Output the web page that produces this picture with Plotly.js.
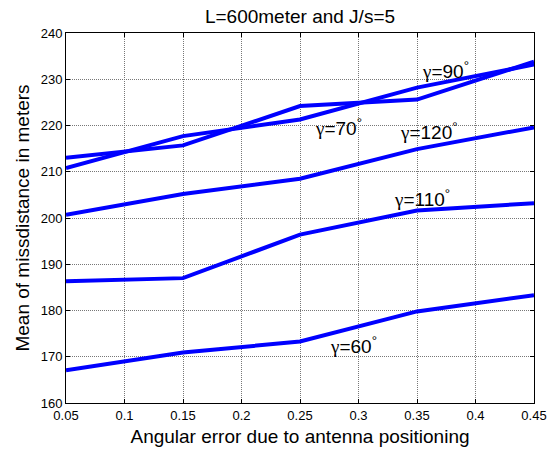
<!DOCTYPE html>
<html>
<head>
<meta charset="utf-8">
<script src="https://cdn.plot.ly/plotly-3.0.1.min.js"></script>
<style>html,body{margin:0;padding:0;background:#fff;}#chart{width:551px;height:452px;}</style>
</head>
<body>
<div id="chart"></div>
<script>
// Data
var angularError = [0.05, 0.15, 0.25, 0.35, 0.45];
var gamma60  = [167.1, 170.9, 173.3, 179.8, 183.3];
var gamma110 = [186.3, 187.0, 196.4, 201.6, 203.2];
var gamma120 = [200.7, 205.2, 208.5, 214.9, 219.6];
var gamma90  = [213.0, 215.7, 224.2, 225.6, 233.8];
var gamma70  = [210.8, 217.7, 221.3, 228.2, 233.2];
var xTicks = [0.05, 0.1, 0.15, 0.2, 0.25, 0.3, 0.35, 0.4, 0.45];
var xTickText = ['0.05', '0.1', '0.15', '0.2', '0.25', '0.3', '0.35', '0.4', '0.45'];
var yTicks = [160, 170, 180, 190, 200, 210, 220, 230, 240];
var seriesNames = ['γ=60°', 'γ=110°', 'γ=120°', 'γ=90°', 'γ=70°'];
var seriesValues = [gamma60, gamma110, gamma120, gamma90, gamma70];

var traces = seriesValues.map(function (vals, i) {
  return {
    x: angularError, y: vals, type: 'scatter', mode: 'lines', name: seriesNames[i],
    line: {color: '#0000ff', width: 4}, hoverinfo: 'skip'
  };
});

function glabel(num) {
  return '<span style="font-family:Liberation Serif">γ</span>=' + num + '<sup>°</sup>';
}
var annFont = {family: 'Liberation Sans, Arial, sans-serif', size: 19, color: '#000'};
var annotations = [
  {x: 0.3526, y: 232.0, text: glabel('90')},
  {x: 0.2611, y: 219.6, text: glabel('70')},
  {x: 0.3338, y: 218.8, text: glabel('120')},
  {x: 0.3286, y: 204.3, text: glabel('110')},
  {x: 0.2739, y: 172.6, text: glabel('60')}
].map(function (a) {
  return {x: a.x, y: a.y, xref: 'x', yref: 'y', text: a.text, showarrow: false,
          xanchor: 'left', yanchor: 'middle', font: annFont};
});

var axisCommon = {
  showline: true, linecolor: '#000', linewidth: 1, mirror: 'ticks',
  ticks: 'inside', ticklen: 4, tickwidth: 1, tickcolor: '#000',
  showgrid: true, gridcolor: '#777', gridwidth: 1, griddash: '1px,1px',
  zeroline: false, tickfont: {family: 'Liberation Sans, Arial, sans-serif', size: 13, color: '#000'}
};

var layout = {
  width: 551, height: 452,
  margin: {l: 66, r: 17, t: 33, b: 49, pad: 0},
  paper_bgcolor: '#fff', plot_bgcolor: '#fff',
  showlegend: false,
  font: {family: 'Liberation Sans, Arial, sans-serif', color: '#000'},
  title: {text: 'L=600meter and J/s=5', x: 0.5, xref: 'paper', y: 1 - 16 / 452, yref: 'container',
          yanchor: 'middle', font: {size: 19, color: '#000'}},
  xaxis: Object.assign({}, axisCommon, {
    range: [0.05, 0.45], tickmode: 'array', tickvals: xTicks, ticktext: xTickText,
    title: {text: 'Angular error due to antenna positioning', font: {size: 19, color: '#000'}, standoff: 8}
  }),
  yaxis: Object.assign({}, axisCommon, {
    range: [160, 240], tickmode: 'array', tickvals: yTicks,
    title: {text: 'Mean of missdistance in meters', font: {size: 19, color: '#000'}, standoff: 6}
  }),
  annotations: annotations
};

Plotly.newPlot('chart', traces, layout, {staticPlot: true, displayModeBar: false});
</script>
</body>
</html>
